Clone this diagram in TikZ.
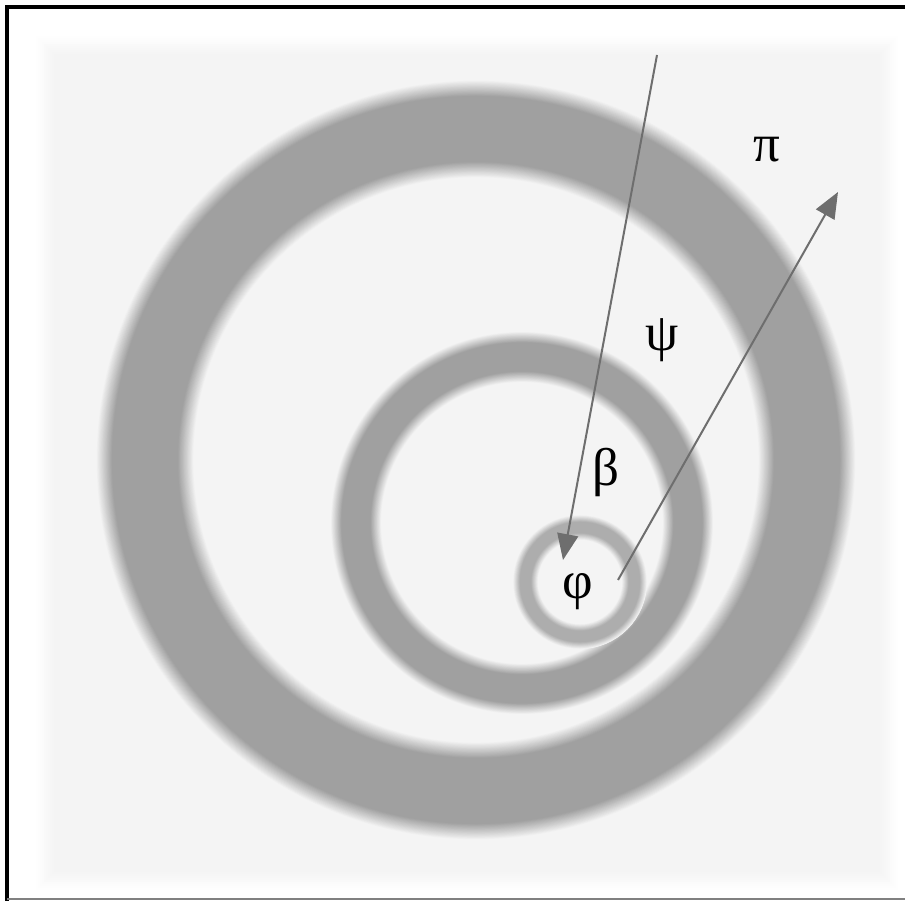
\documentclass[tikz,border=0pt]{standalone}
\usepackage{fontspec}
\setmainfont{Liberation Serif}
\usetikzlibrary{arrows.meta}
\definecolor{ringc}{HTML}{A0A0A0}
\definecolor{bgc}{HTML}{F4F4F4}
\definecolor{arrc}{HTML}{6E6E6E}
\newcommand{\softring}[6]{% cx, cy, r, width, blur, colour
  \foreach \k in {0,...,20}{%
    \pgfmathsetmacro{\lw}{#4+#5-2*#5*\k/20}%
    \pgfmathtruncatemacro{\pc}{\k*5}%
    \draw[line width=\lw pt, color=#6!\pc!bgc] (#1,#2) circle[radius=#3];
  }}
\tikzset{
  greek/.style={font=\fontsize{53}{60}\selectfont, text=black, inner sep=0pt},
  ray/.style={draw=arrc, line width=2pt, -{Triangle[length=26pt,width=21pt]}}
}
\begin{document}
\begin{tikzpicture}[x=1pt,y=-1pt]
\useasboundingbox (0,0) rectangle (905,901);
\fill[white] (0,0) rectangle (905,901);
% soft background square
\foreach \k in {0,...,10}{
  \pgfmathsetmacro{\ins}{2*\k}
  \pgfmathtruncatemacro{\pc}{\k*10}
  \fill[bgc!\pc!white] (34+\ins,34+\ins) rectangle (900-\ins,892-\ins);
}
% rings
\softring{476}{460}{331}{82}{16}{ringc}
\softring{522}{523}{166}{40}{11}{ringc}
\softring{580}{582}{54.5}{18}{7}{ringc!85!bgc}
% frame
\draw[line width=4pt, black] (905,7.5) -- (7,7.5) -- (7,901);
\draw[line width=2pt, gray] (7,899) -- (905,899);
% arrows
\coordinate (a1s) at (657,55);
\coordinate (a1e) at (563,560);
\coordinate (a2s) at (618,580);
\coordinate (a2e) at (838,192);
\draw[ray] (a1s) -- (a1e);
\draw[ray] (a2s) -- (a2e);
% labels
\node[greek] (pi) at (767,150) {π};
\node[greek] (psi) at (662,340) {ψ};
\node[greek] (beta) at (606,472) {β};
\node[greek] (phi) at (578,592) {φ};
\end{tikzpicture}
\end{document}
